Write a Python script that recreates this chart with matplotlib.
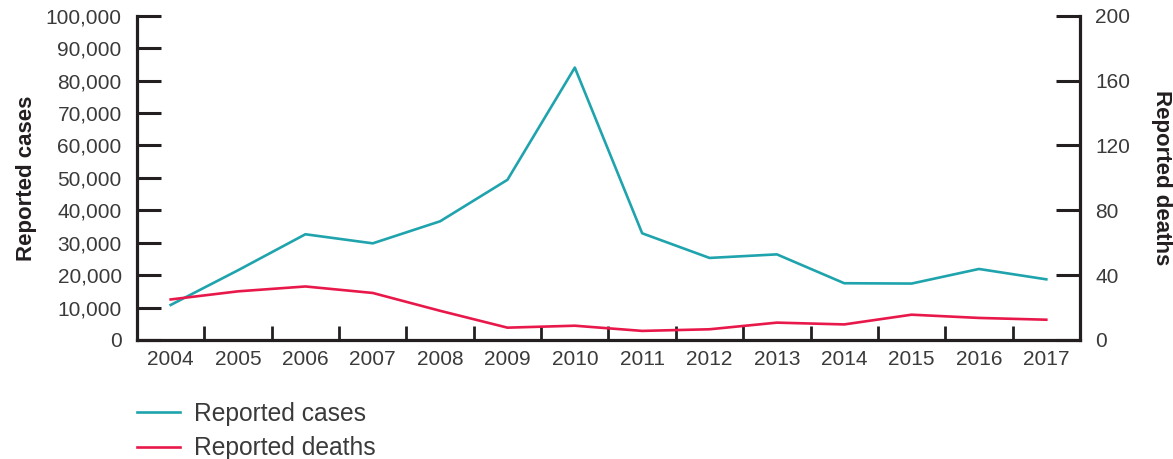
import matplotlib
matplotlib.use("Agg")
from matplotlib import pyplot as plt
from matplotlib.ticker import FuncFormatter, FixedLocator

plt.rcParams['font.family'] = ['Liberation Sans', 'DejaVu Sans']

years = ['2004', '2005', '2006', '2007', '2008', '2009', '2010',
         '2011', '2012', '2013', '2014', '2015', '2016', '2017']
cases = [10800, 21500, 32600, 29800, 36600, 49400, 84000,
         32900, 25300, 26400, 17500, 17400, 21900, 18700]
deaths = [25, 30, 33, 29, 18, 7.6, 8.8, 5.6, 6.6, 10.7, 9.6, 15.6, 13.6, 12.5]

teal = '#1fa3ad'
red = '#e8194a'
ink = '#231f20'
txt = '#3a3a3a'

fig = plt.figure(figsize=(11.73, 4.59), dpi=100)
ax = fig.add_axes([0.1168, 0.2593, 0.8039, 0.7065])
ax2 = ax.twinx()

x = list(range(len(years)))
l1, = ax.plot(x, cases, color=teal, lw=1.9, label='Reported cases')
l2, = ax2.plot(x, deaths, color=red, lw=1.9, label='Reported deaths')

ax.set_xlim(-0.5, len(years) - 0.5)
ax.set_ylim(0, 100000)
ax2.set_ylim(0, 200)

ax.set_yticks(range(0, 100001, 10000))
ax.yaxis.set_major_formatter(FuncFormatter(lambda v, p: f'{int(v):,}'))
ax2.set_yticks(range(0, 201, 40))

# year labels sit between the ticks
ax.set_xticks(x)
ax.set_xticklabels(years)
ax.xaxis.set_minor_locator(FixedLocator([i + 0.5 for i in range(len(years) - 1)]))
ax.tick_params(axis='x', which='major', length=0, pad=7, labelsize=15, labelcolor=txt)
ax.tick_params(axis='x', which='minor', direction='in', length=10, width=2, color=ink)
ax.tick_params(axis='y', direction='in', length=17, width=2.2, color=ink,
               pad=11, labelsize=15, labelcolor=txt)
ax2.tick_params(axis='y', direction='in', length=17, width=2.2, color=ink,
                pad=11, labelsize=15, labelcolor=txt)

for a in (ax, ax2):
    a.spines['top'].set_visible(False)
    for s in ('left', 'right', 'bottom'):
        a.spines[s].set_linewidth(2.3)
        a.spines[s].set_color(ink)
ax.spines['right'].set_visible(False)
ax2.spines['left'].set_visible(False)
ax2.spines['bottom'].set_visible(False)

ax.set_ylabel('Reported cases', fontsize=16, fontweight='bold', color=ink, labelpad=6)
ax2.set_ylabel('Reported deaths', fontsize=16, fontweight='bold', color=ink,
               rotation=270, labelpad=30)

leg = fig.legend(handles=[l1, l2], loc='upper left', bbox_to_anchor=(0.1172, 0.124),
                 frameon=False, fontsize=17.7, handlelength=1.75, handletextpad=0.53,
                 labelspacing=0.42, borderpad=0, borderaxespad=0)
for t in leg.get_texts():
    t.set_color(txt)

fig.savefig('out.png', dpi=100)
